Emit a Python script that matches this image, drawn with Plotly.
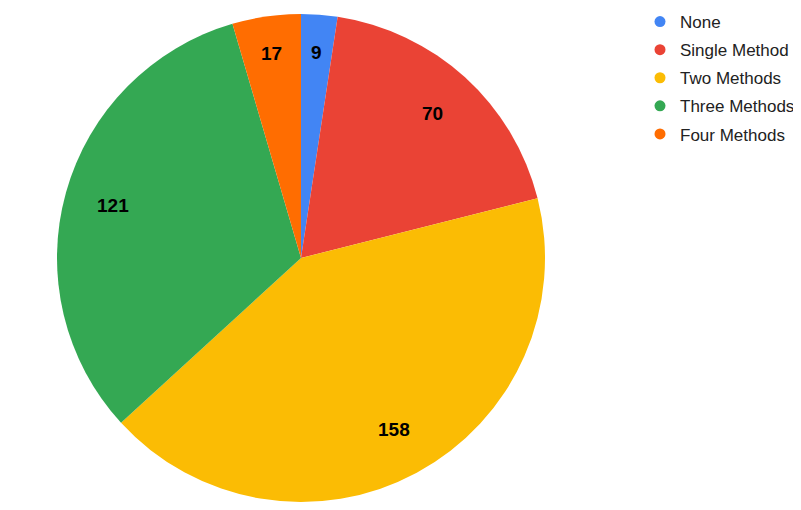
import math
import plotly.graph_objects as go

categories = ["None", "Single Method", "Two Methods", "Three Methods", "Four Methods"]
values = [9, 70, 158, 121, 17]
colors = ["#4285F4", "#EA4335", "#FBBC04", "#34A853", "#FF6D01"]

W, H = 801, 510
OFF = 8  # page body margin
cx_px, cy_px, r_px = 301 - OFF, 258 - OFF, 244

fig = go.Figure()
fig.add_trace(go.Pie(
    labels=categories, values=values, sort=False, direction="clockwise", rotation=0,
    marker=dict(colors=colors, line=dict(width=0)),
    textinfo="none", showlegend=False, hoverinfo="label+value+percent",
    domain=dict(x=[(cx_px - r_px) / W, (cx_px + r_px) / W],
                y=[1 - (cy_px + r_px) / H, 1 - (cy_px - r_px) / H]),
))
for c, col in zip(categories, colors):
    fig.add_trace(go.Scatter(x=[None], y=[None], mode="markers", name=c, legendgroup=c,
                             marker=dict(symbol="circle", size=11, color=col)))

# value labels placed along each slice's mid angle
total = sum(values)
cum = 0
for v in values:
    mid = (cum + v / 2) / total * 2 * math.pi
    cum += v
    f = 0.8 if v / total > 0.1 else 0.845
    x_px = cx_px + f * r_px * math.sin(mid)
    y_px = cy_px - f * r_px * math.cos(mid)
    fig.add_annotation(x=x_px / W, y=1 - y_px / H, xref="paper", yref="paper",
                       xanchor="center", yanchor="middle",
                       text=f"<b>{v}</b>", showarrow=False,
                       font=dict(family="Liberation Sans, Arial", size=19, color="#000000"))

fig.update_layout(
    width=W, height=H, margin=dict(l=0, r=0, t=0, b=0, autoexpand=False),
    paper_bgcolor="white", plot_bgcolor="white",
    xaxis=dict(visible=False), yaxis=dict(visible=False),
    legend=dict(x=632 / W, y=1 + 4 / H, xanchor="left", yanchor="top",
                font=dict(family="Liberation Sans, Arial", size=17, color="#222222"),
                tracegroupgap=3, bgcolor="rgba(0,0,0,0)"),
)
fig.write_html("out.html")
